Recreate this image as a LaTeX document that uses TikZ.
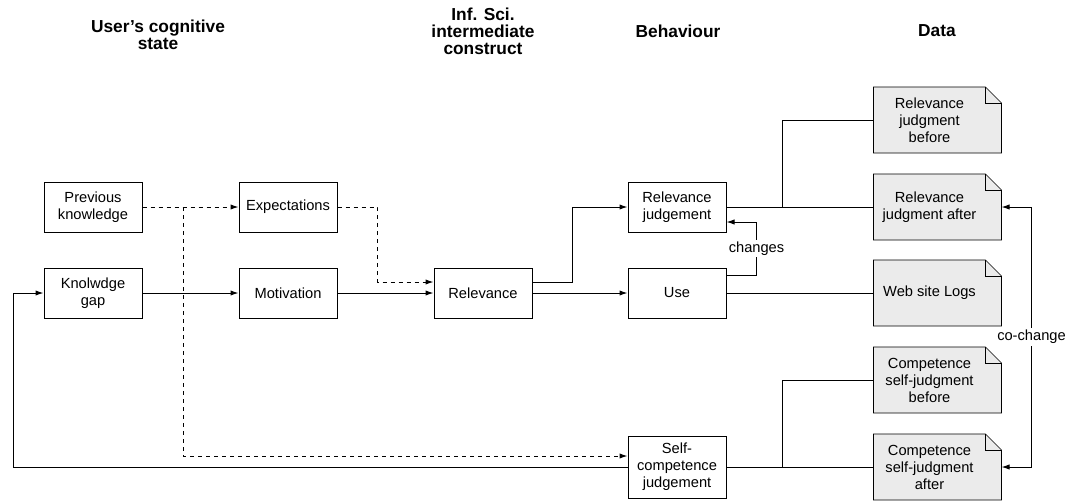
\documentclass[tikz,border=0pt]{standalone}
\usepackage{fontspec}
\setmainfont{Liberation Sans}
\usepackage{xcolor}
\usetikzlibrary{arrows.meta,backgrounds}
\definecolor{docgray}{HTML}{EBEBEB}

\begin{document}
\begin{tikzpicture}[x=0.75pt,y=-0.75pt,line width=0.75pt,
    >={Latex[length=6pt,width=4pt]},
    font=\fontsize{11pt}{12.75pt}\selectfont,
    box/.style={draw,align=center,minimum width=73.5pt,minimum height=37.5pt,inner sep=2pt},
    doc/.style={align=center,minimum width=83.25pt,minimum height=48.75pt,inner sep=2pt},
    head/.style={align=center,font=\fontsize{13pt}{12.75pt}\selectfont\bfseries},
    link/.style={->},
    hint/.style={->,dash pattern=on 3pt off 3pt},
    tag/.style={fill=white,inner sep=1.5pt}]
        \useasboundingbox (0,0) rectangle (1065,501);

        % Títulos de columnas
        \node[head] (hcog) at (158,35) {User's cognitive\\state};
        \node[head] (hinf) at (483,31) {Inf. Sci.\\intermediate\\construct};
        \node[head] (hbeh) at (678,31) {Behaviour};
        \node[head] (hdat) at (937,31) {Data};

        % Cajas
        \node[box] (prev)   at (93,207)  {Previous\\knowledge};
        \node[box] (expect) at (288,207) {Expectations};
        \node[box] (gap)    at (93,293)  {Knolwdge\\gap};
        \node[box] (motiv)  at (288,293) {Motivation};
        \node[box] (rel)    at (483,293) {Relevance};
        \node[box] (reljudge) at (677,207) {Relevance\\judgement};
        \node[box] (use)    at (677,293) {Use};
        \node[box,minimum height=46.5pt] (selfcomp) at (677,467) {Self-\\competence\\judgement};

        % Documentos de datos
        \node[doc] (rjbefore) at (929.5,120) {Relevance\\judgment\\before};
        \node[doc] (rjafter)  at (929.5,207) {Relevance\\judgment after};
        \node[doc] (logs)     at (929.5,293) {Web site Logs};
        \node[doc] (cbefore)  at (929.5,380) {Competence\\self-judgment\\before};
        \node[doc] (cafter)   at (929.5,467) {Competence\\self-judgment\\after};
        \begin{scope}[on background layer]
            \foreach \d in {rjbefore,rjafter,logs,cbefore,cafter} {
                \draw[fill=docgray] (\d.south west) -- (\d.north west) -- (\d.north east)
                    -- ([shift={(12pt,-12pt)}]\d.north east) -- ([xshift=12pt]\d.south east) -- cycle;
                \draw (\d.north east) |- ([shift={(12pt,-12pt)}]\d.north east);
            }
        \end{scope}

        % Conexiones
        \coordinate (split) at (183,207);
        \draw[hint] (prev.east) -- (expect.west);
        \draw[hint] (split) |- ([yshift=8.25pt]selfcomp.west);
        \draw[hint] (expect.east) -- ++(40,0) |- ([yshift=8.25pt]rel.west);
        \draw[link] (gap.east) -- (motiv.west);
        \draw[link] (motiv.east) -- (rel.west);
        \draw[link] ([yshift=8.25pt]rel.east) -- ++(40,0) |- (reljudge.west);
        \draw[link] (rel.east) -- (use.west);
        \draw[link] ([yshift=13.5pt]use.east) -- ++(30,0) |- node[tag,pos=0.25] (chg) {changes} ([yshift=-11.25pt]reljudge.east);
        \draw (reljudge.east) -- (rjafter.west);
        \draw (reljudge.east) -- ++(56,0) |- (rjbefore.west);
        \draw (use.east) -- (logs.west);
        \draw (selfcomp.east) -- (cafter.west);
        \draw (selfcomp.east) -- ++(56,0) |- (cbefore.west);
        \draw[link] (selfcomp.west) -- ++(-614,0) |- (gap.west);
        \draw[<->] ([xshift=12pt]rjafter.east) -- ++(30,0) |- node[tag,pos=0.25] (cochg) {co-change} ([xshift=12pt]cafter.east);
    \end{tikzpicture}
\end{document}
